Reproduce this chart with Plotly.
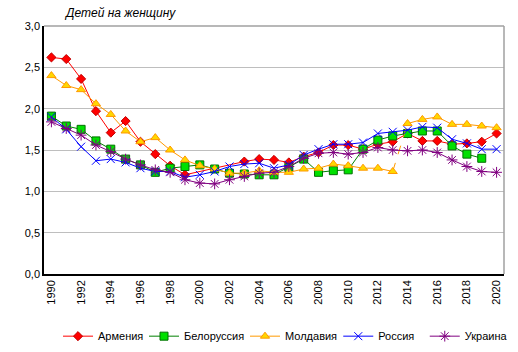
import plotly.graph_objects as go

years = list(range(1990, 2021))

armenia = [2.62, 2.60, 2.36, 1.97, 1.71, 1.85, 1.60, 1.45, 1.31, 1.20,
           None, None, None, 1.36, 1.39, 1.38, 1.35, 1.42, 1.47, 1.56,
           1.56, 1.51, 1.57, 1.60, 1.70, 1.61, 1.61, 1.57, 1.58, 1.60, 1.70]
belarus = [1.91, 1.79, 1.75, 1.61, 1.51, 1.39, 1.32, 1.23, 1.28, 1.30,
           1.32, 1.27, 1.22, 1.21, 1.20, 1.20, 1.29, 1.39, 1.23, 1.25,
           1.26, 1.51, 1.62, 1.67, 1.70, 1.73, 1.73, 1.55, 1.45, 1.40, None]
moldova = [2.40, 2.28, 2.23, 2.06, 1.93, 1.73, 1.60, 1.65, 1.50, 1.38,
           1.31, 1.27, 1.22, 1.22, 1.25, 1.23, 1.23, 1.27, 1.28, 1.33,
           1.31, 1.28, 1.28, 1.24, 1.82, 1.87, 1.90, 1.81, 1.81, 1.79, 1.77]
russia = [1.90, 1.75, 1.54, 1.37, 1.39, 1.35, 1.28, 1.24, 1.24, 1.17,
          1.20, 1.24, 1.30, 1.33, 1.34, 1.28, 1.32, 1.44, 1.51, 1.57,
          1.57, 1.59, 1.70, 1.72, 1.74, 1.78, 1.77, 1.63, 1.58, 1.51, 1.51]
ukraine = [1.84, 1.76, 1.68, 1.56, 1.48, 1.39, 1.32, 1.26, 1.23, 1.14,
           1.10, 1.09, 1.14, 1.18, 1.22, 1.23, 1.30, 1.40, 1.46, 1.47,
           1.45, 1.47, 1.53, 1.50, 1.49, 1.50, 1.47, 1.38, 1.30, 1.24, 1.23]

# Moldova break year (new population base from 2014)
md_break = 2014
tick_years = list(range(1990, 2021, 2))

FONT = "Liberation Sans, Arial, sans-serif"

fig = go.Figure()

fig.add_trace(go.Scatter(
    x=years, y=armenia, name="Армения", mode="lines+markers", connectgaps=True,
    legend="legend",
    line=dict(color="#FF0000", width=1),
    marker=dict(symbol="diamond", size=7, color="#FF0000",
                line=dict(color="#C00000", width=1))))

fig.add_trace(go.Scatter(
    x=years, y=belarus, name="Белоруссия", mode="lines+markers",
    legend="legend2",
    line=dict(color="#008000", width=1),
    marker=dict(symbol="square", size=8, color="#00E000",
                line=dict(color="#007000", width=1))))

md_x1 = [y for y in years if y < md_break]
md_y1 = [v for y, v in zip(years, moldova) if y < md_break]
md_x2 = [y for y in years if y >= md_break]
md_y2 = [v for y, v in zip(years, moldova) if y >= md_break]
md_marker = dict(symbol="triangle-up", size=8, color="#FFD700",
                 line=dict(color="#FF9900", width=1))
fig.add_trace(go.Scatter(
    x=[md_x1[-1], md_x2[0]], y=[md_y1[-1], md_y2[0]], mode="lines",
    showlegend=False, hoverinfo="skip", legend="legend3",
    line=dict(color="#FF9900", width=1, dash="dash")))
fig.add_trace(go.Scatter(
    x=md_x1, y=md_y1, name="Молдавия", mode="lines+markers", legendgroup="md",
    legend="legend3",
    line=dict(color="#FF9900", width=1), marker=md_marker))
fig.add_trace(go.Scatter(
    x=md_x2, y=md_y2, name="Молдавия", mode="lines+markers", legendgroup="md",
    showlegend=False, legend="legend3",
    line=dict(color="#FF9900", width=1), marker=md_marker))

fig.add_trace(go.Scatter(
    x=years, y=russia, name="Россия", mode="lines+markers",
    legend="legend4",
    line=dict(color="#0000FF", width=1),
    marker=dict(symbol="x-thin-open", size=8, color="#0000FF",
                line=dict(color="#0000FF", width=1))))

fig.add_trace(go.Scatter(
    x=years, y=ukraine, name="Украина", mode="lines+markers",
    legend="legend5",
    line=dict(color="#800080", width=1),
    marker=dict(symbol="asterisk-open", size=9, color="#800080",
                line=dict(color="#800080", width=1))))


def leg(xpos):
    return dict(orientation="h", xref="container", yref="container",
                x=xpos, xanchor="left", y=0.045, yanchor="middle",
                font=dict(size=11), itemwidth=30,
                bgcolor="rgba(0,0,0,0)")


fig.update_layout(
    width=518, height=352,
    margin=dict(l=44, r=14, t=26, b=78, autoexpand=False),
    paper_bgcolor="white", plot_bgcolor="white",
    separators=", ",
    font=dict(family=FONT, size=11, color="#000000"),
    showlegend=True,
    legend=leg(0.112), legend2=leg(0.278), legend3=leg(0.473),
    legend4=leg(0.653), legend5=leg(0.820),
    xaxis=dict(range=[1989.5, 2020.5], tickmode="array", tickvals=tick_years,
               ticktext=[str(t) for t in tick_years], tickangle=-90,
               showgrid=False, zeroline=False, showline=True,
               linecolor="#000000", linewidth=1.5, ticks="",
               tickfont=dict(size=11)),
    yaxis=dict(range=[0, 3], dtick=0.5, tickformat=".1f",
               showgrid=True, gridcolor="#BEBEBE", gridwidth=1,
               zeroline=False, showline=True, linecolor="#000000",
               linewidth=1.5, ticks="", tickfont=dict(size=11)),
    shapes=[dict(type="line", xref="paper", yref="paper", x0=1, x1=1,
                 y0=0, y1=1, line=dict(color="#A0A0A0", width=1.5)),
            dict(type="line", xref="paper", yref="paper", x0=0, x1=1,
                 y0=1, y1=1, line=dict(color="#A0A0A0", width=1.5))],
    annotations=[dict(text="<i>Детей на женщину</i>", xref="paper",
                      yref="paper", x=0.04, y=1.0, yshift=13,
                      xanchor="left", yanchor="middle", showarrow=False,
                      font=dict(size=12, color="#000000"))],
)

fig.write_html("out.html")
